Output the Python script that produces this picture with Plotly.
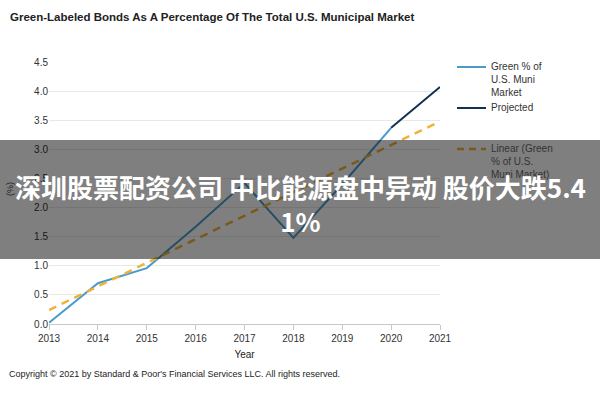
import plotly.graph_objects as go

years = [2013, 2014, 2015, 2016, 2017, 2018, 2019, 2020, 2021]
green_pct = [0.02, 0.70, 0.96, 1.67, 2.42, 1.48, 2.40, 3.37, None]
projected = [None, None, None, None, None, None, None, 3.37, 4.07]
trend_years = [2013, 2021]
trend_vals = [0.24, 3.48]
series_names = ["Green % of<br>U.S. Muni<br>Market", "Projected", "Linear (Green<br>% of U.S.<br>Muni Market)"]
y_ticks = [0.0, 0.5, 1.0, 1.5, 2.0, 2.5, 3.0, 3.5, 4.0, 4.5]

title_text = "Green-Labeled Bonds As A Percentage Of The Total U.S. Municipal Market"
footer_text = "Copyright \u00a9 2021 by Standard &amp; Poor's Financial Services LLC. All rights reserved."
overlay_text = "深圳股票配资公司 中比能源盘中异动 股价大跌5.4<br>1%"

C_GREEN = "#4a9bcc"
C_PROJ = "#12304f"
C_TREND = "#f0b23a"
FONT = "Liberation Sans, Arial, sans-serif"

fig = go.Figure()
fig.add_trace(go.Scatter(x=years, y=green_pct, mode="lines", name=series_names[0],
                         line=dict(color=C_GREEN, width=2), showlegend=False))
fig.add_trace(go.Scatter(x=years, y=projected, mode="lines", name=series_names[1],
                         line=dict(color=C_PROJ, width=2), showlegend=False))
fig.add_trace(go.Scatter(x=trend_years, y=trend_vals, mode="lines", name=series_names[2],
                         line=dict(color=C_TREND, width=2.5, dash="8px,6px"), showlegend=False))

L, R, T, B = 49, 160, 62, 76
W, H = 600, 400
pw, ph = W - L - R, H - T - B

def px_x(p):
    return (p - L) / pw

def px_y(p):
    return (H - B - p) / ph

fig.update_layout(
    width=W, height=H,
    margin=dict(l=L, r=R, t=T, b=B),
    paper_bgcolor="white", plot_bgcolor="white",
    font=dict(family=FONT, size=10, color="#333333"),
    xaxis=dict(range=[2013, 2021], tickmode="array", tickvals=years,
               showgrid=False, zeroline=False, showline=True, linecolor="#c8c8c8",
               linewidth=1, ticks="outside", ticklen=5, tickcolor="#c8c8c8",
               tickfont=dict(size=10, color="#333333", family=FONT),
               title=dict(text="Year", font=dict(size=10, color="#222222", family=FONT), standoff=7)),
    yaxis=dict(range=[0, 4.5], tickmode="array", tickvals=y_ticks,
               ticktext=[f"{v:.1f}" for v in y_ticks],
               showgrid=True, gridcolor="#e8e8e8", gridwidth=1, zeroline=False,
               showline=False, ticks="", ticklen=0,
               tickfont=dict(size=10, color="#333333", family=FONT),
               title=dict(text="")),
)

anns = []
shapes = []
# Title
anns.append(dict(text="<b>" + title_text + "</b>", xref="paper", yref="paper",
                 x=px_x(8), y=px_y(17), xanchor="left", yanchor="middle", showarrow=False,
                 font=dict(size=11.5, color="#222222", family=FONT)))
# Footer
anns.append(dict(text=footer_text, xref="paper", yref="paper",
                 x=px_x(7), y=px_y(374), xanchor="left", yanchor="middle", showarrow=False,
                 font=dict(size=9, color="#222222", family=FONT)))
# Y-axis title
anns.append(dict(text="(%)", xref="paper", yref="paper", x=px_x(10), y=px_y(189),
                 xanchor="center", yanchor="middle", textangle=-90, showarrow=False,
                 font=dict(size=9, color="#222222", family=FONT)))

# Legend (manual)
leg_rows = [67, 108, 149]
leg_styles = [dict(color=C_GREEN, width=2), dict(color=C_PROJ, width=2),
              dict(color=C_TREND, width=2.5, dash="7px,5px")]
for name, yrow, st in zip(series_names, leg_rows, leg_styles):
    shapes.append(dict(type="line", xref="paper", yref="paper",
                       x0=px_x(457), x1=px_x(486), y0=px_y(yrow), y1=px_y(yrow), line=st))
    anns.append(dict(text=name, xref="paper", yref="paper", x=px_x(489), y=px_y(yrow - 8),
                     xanchor="left", yanchor="top", align="left", showarrow=False,
                     font=dict(size=10, color="#333333", family=FONT)))

# Gray overlay banner
shapes.append(dict(type="rect", xref="paper", yref="paper", layer="above",
                   x0=px_x(0), x1=px_x(600), y0=px_y(259), y1=px_y(140),
                   fillcolor="rgba(0,0,0,0.5)", line=dict(width=0)))
anns.append(dict(text="<b>" + overlay_text + "</b>", xref="paper", yref="paper",
                 x=px_x(300), y=px_y(203), xanchor="center", yanchor="middle", showarrow=False,
                 align="center",
                 font=dict(size=26, color="white", family="Noto Sans CJK SC, Noto Sans, sans-serif")))

fig.update_layout(annotations=anns, shapes=shapes)
fig.write_html("out.html")
